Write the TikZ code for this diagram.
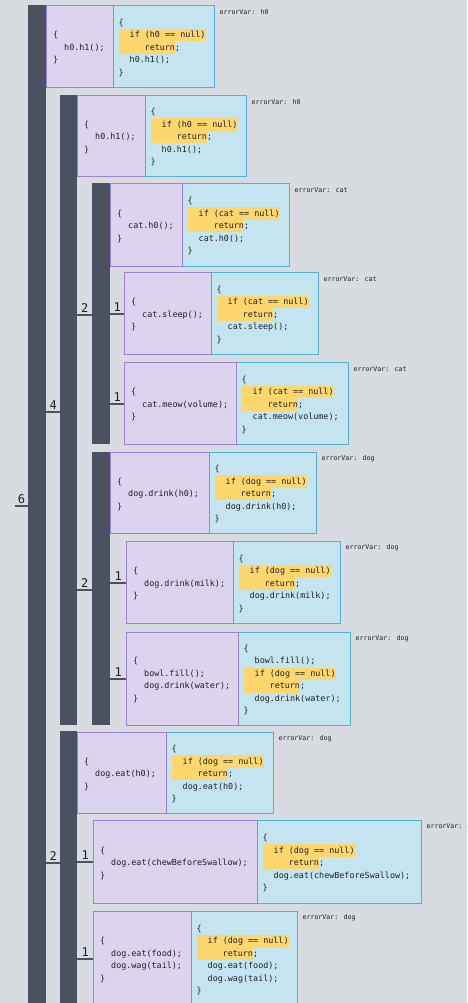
\documentclass[tikz,border=0pt]{standalone}
\usepackage{fontspec}
\newfontfamily\codefont{DejaVu Sans Mono}
\usetikzlibrary{calc}
\definecolor{bgc}{HTML}{D8DBE0}
\definecolor{barc}{HTML}{4A5161}
\definecolor{pfill}{HTML}{DCD3EF}
\definecolor{pline}{HTML}{9D80D8}
\definecolor{bfill}{HTML}{C4E5F0}
\definecolor{bline}{HTML}{4DB3DD}
\definecolor{hlc}{HTML}{FDD66E}
\definecolor{txt}{HTML}{1F1F24}
\newcommand\IA{\hspace*{11pt}}
\newcommand\HL[2]{{\setlength\fboxsep{0pt}\colorbox{hlc}{\strut\hspace*{#1}#2}}}
\newcommand\Pone[1]{\strut\{\\\IA #1\\\}\strut}
\newcommand\Bone[2]{\strut\{\\\HL{11pt}{if (#1 == null)}\\\HL{26pt}{return};\\\IA #2\\\}\strut}
\tikzset{
 pbox/.style={draw=pline, fill=pfill, line width=1.4pt, anchor=north west, inner sep=0pt},
 bbox/.style={draw=bline, fill=bfill, line width=1.4pt, anchor=north west, inner sep=0pt},
 code/.style={anchor=west, inner sep=0pt, align=left, text=txt, font=\codefont\fontsize{8.4}{12.5}\selectfont},
 evar/.style={anchor=west, inner sep=0pt, text=txt, font=\codefont\fontsize{6.6}{8}\selectfont},
 barn/.style={fill=barc, anchor=north west, inner sep=0pt},
 conn/.style={draw=barc, line width=1.6pt},
 lbl/.style={above, inner sep=1.5pt, text=txt, font=\codefont\fontsize{12}{14}\selectfont},
}
\newcommand\codepair[9]{%
 \node[bbox, minimum width=#5pt, minimum height=#6pt] (#1b) at ($(#2,#3)+(#4,0)$) {};
 \node[pbox, minimum width=#4pt, minimum height=#6pt] (#1p) at (#2,#3) {};
 \node[code] (#1pt) at ([xshift=7pt,yshift=-1pt]#1p.west) {#7};
 \node[code] (#1bt) at ([xshift=5.5pt,yshift=-1pt]#1b.west) {#8};
 \node[evar] (#1e) at ([xshift=4pt,yshift=-7pt]#1b.north east) {#9};
}
\begin{document}
\begin{tikzpicture}[x=1pt,y=-1pt]
\fill[bgc] (0,0) rectangle (467,1003);
\useasboundingbox (0,0) rectangle (467,1003);
\clip (0,0) rectangle (467,1003);
% bars
\node[barn, minimum width=18pt, minimum height=1002pt] (bar6) at (28,5) {};
\node[barn, minimum width=17pt, minimum height=630pt] (bar4) at (60,95) {};
\node[barn, minimum width=18pt, minimum height=261pt] (bar2a) at (92,183) {};
\node[barn, minimum width=18pt, minimum height=273pt] (bar2b) at (92,452) {};
\node[barn, minimum width=17pt, minimum height=276pt] (bar2c) at (60,731) {};
% boxes
\codepair{a}{46}{5}{67}{101}{82}{\Pone{h0.h1();}}{\Bone{h0}{h0.h1();}}{errorVar: h0}
\codepair{b}{77}{95}{68}{101}{81}{\Pone{h0.h1();}}{\Bone{h0}{h0.h1();}}{errorVar: h0}
\codepair{c}{110}{183}{72}{107}{83}{\Pone{cat.h0();}}{\Bone{cat}{cat.h0();}}{errorVar: cat}
\codepair{d}{124}{272}{87}{107}{82}{\Pone{cat.sleep();}}{\Bone{cat}{cat.sleep();}}{errorVar: cat}
\codepair{e}{124}{362}{112}{112}{82}{\Pone{cat.meow(volume);}}{\Bone{cat}{cat.meow(volume);}}{errorVar: cat}
\codepair{f}{110}{452}{99}{107}{81}{\Pone{dog.drink(h0);}}{\Bone{dog}{dog.drink(h0);}}{errorVar: dog}
\codepair{g}{126}{541}{107}{107}{82}{\Pone{dog.drink(milk);}}{\Bone{dog}{dog.drink(milk);}}{errorVar: dog}
\codepair{h}{126}{632}{112}{112}{93}{\strut\{\\\IA bowl.fill();\\\IA dog.drink(water);\\\}\strut}{\strut\{\\\IA bowl.fill();\\\HL{11pt}{if (dog == null)}\\\HL{26pt}{return};\\\IA dog.drink(water);\\\}\strut}{errorVar: dog}
\codepair{i}{77}{732}{89}{107}{81}{\Pone{dog.eat(h0);}}{\Bone{dog}{dog.eat(h0);}}{errorVar: dog}
\codepair{j}{93}{820}{164}{164}{83}{\Pone{dog.eat(chewBeforeSwallow);}}{\Bone{dog}{dog.eat(chewBeforeSwallow);}}{errorVar: dog}
\codepair{k}{93}{911}{98}{106}{95}{\strut\{\\\IA dog.eat(food);\\\IA dog.wag(tail);\\\}\strut}{\strut\{\\\HL{11pt}{if (dog == null)}\\\HL{26pt}{return};\\\IA dog.eat(food);\\\IA dog.wag(tail);\\\}\strut}{errorVar: dog}
% connectors and labels
\coordinate (y6) at (15,506);
\draw[conn] (y6) -- node[lbl]{6} (y6 -| bar6.west);
\coordinate (y4) at (0,412);
\draw[conn] (bar6.east |- y4) -- node[lbl]{4} (bar4.west |- y4);
\coordinate (y2a) at (0,315);
\draw[conn] (bar4.east |- y2a) -- node[lbl]{2} (bar2a.west |- y2a);
\draw[conn] (bar2a.east |- dp.west) -- node[lbl]{1} (dp.west);
\draw[conn] (bar2a.east |- ep.west) -- node[lbl]{1} (ep.west);
\coordinate (y2b) at (0,590);
\draw[conn] (bar4.east |- y2b) -- node[lbl]{2} (bar2b.west |- y2b);
\draw[conn] (bar2b.east |- gp.west) -- node[lbl]{1} (gp.west);
\draw[conn] (bar2b.east |- hp.west) -- node[lbl]{1} (hp.west);
\coordinate (y2c) at (0,863);
\draw[conn] (bar6.east |- y2c) -- node[lbl]{2} (bar2c.west |- y2c);
\draw[conn] (bar2c.east |- jp.west) -- node[lbl]{1} (jp.west);
\draw[conn] (bar2c.east |- kp.west) -- node[lbl]{1} (kp.west);
\end{tikzpicture}
\end{document}
